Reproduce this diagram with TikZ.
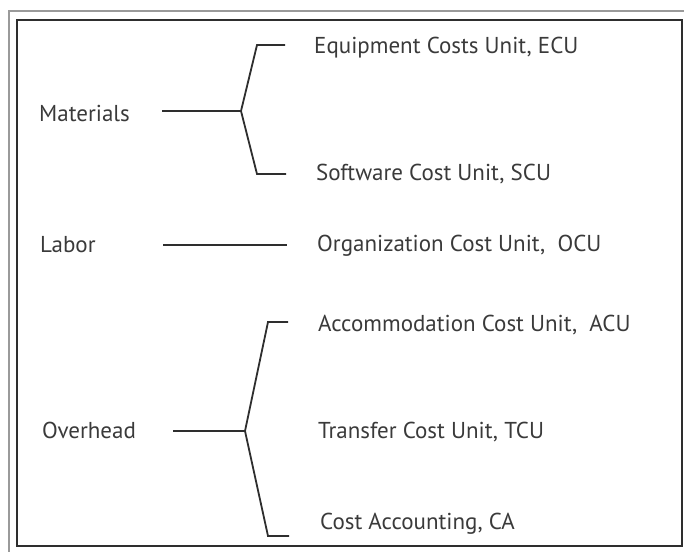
\documentclass[tikz,border=0pt]{standalone}
\usepackage{fontspec}
\setmainfont{PT Sans}
\definecolor{ink}{HTML}{2E2E2E}
\definecolor{txt}{HTML}{3A3A3A}
\definecolor{rim}{HTML}{9A9A9A}
\begin{document}
\begin{tikzpicture}[x=1pt,y=-1pt,
  lbl/.style={anchor=base west,inner sep=0pt,text=txt,font=\fontsize{23}{26}\selectfont},
  link/.style={draw=ink,line width=1.8pt,line join=miter},
  outerframe/.style={draw=rim,line width=1.2pt},
  innerframe/.style={draw=ink,line width=2.4pt}]
\useasboundingbox (0,0) rectangle (684,552);
% double frame
\draw[outerframe] (684,11) -- (9,11) -- (9,552);
\draw[innerframe] (17,20) rectangle (682,546);

% categories
\node[lbl] (mat) at (39,121) {Materials};
\node[lbl] (lab) at (40,252) {Labor};
\node[lbl] (ovh) at (42,438) {Overhead};

% cost units
\node[lbl] (ecu) at (314,53) {Equipment Costs Unit, ECU};
\node[lbl] (scu) at (316,180) {Software Cost Unit, SCU};
\node[lbl] (ocu) at (317,251) {Organization Cost Unit,\ \ OCU};
\node[lbl] (acu) at (318,331) {Accommodation Cost Unit,\ \ ACU};
\node[lbl] (tcu) at (318,438) {Transfer Cost Unit, TCU};
\node[lbl] (ca)  at (320,529) {Cost Accounting, CA};

% bracket points
\coordinate (ms) at (162,111);
\coordinate (mv) at (241,111);
\coordinate (mt) at (257,45);
\coordinate (mte) at (285,45);
\coordinate (mb) at (257,174);
\coordinate (mbe) at (286,174);

\coordinate (ls) at (163,245);
\coordinate (le) at (287,245);

\coordinate (os) at (173,431);
\coordinate (ov) at (245,431);
\coordinate (ot) at (268,322);
\coordinate (ote) at (288,322);
\coordinate (ob) at (268,536);
\coordinate (obe) at (289,536);

% connectors
\draw[link] (ms) -- (mv);
\draw[link] (mte) -- (mt) -- (mv) -- (mb) -- (mbe);
\draw[link] (ls) -- (le);
\draw[link] (os) -- (ov);
\draw[link] (ote) -- (ot) -- (ov) -- (ob) -- (obe);
\end{tikzpicture}
\end{document}
